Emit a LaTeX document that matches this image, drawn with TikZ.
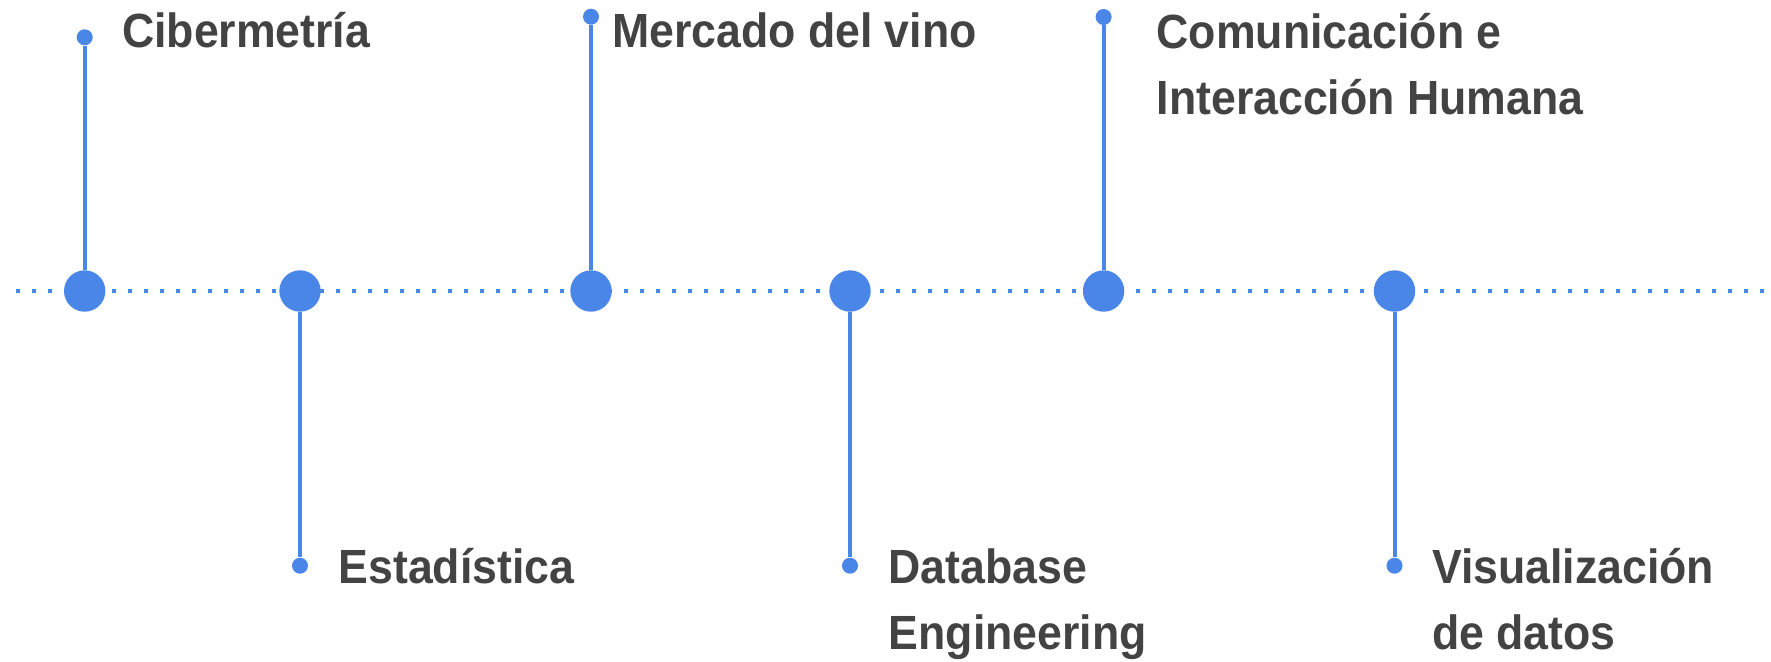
\documentclass[tikz,border=0pt]{standalone}
\usepackage{fontspec}
\setmainfont{Liberation Sans}[FakeStretch=0.93]
\usetikzlibrary{positioning}
\definecolor{tlblue}{HTML}{4A86E8}
\definecolor{tlgray}{HTML}{434343}

\begin{document}
\begin{tikzpicture}[x=0.5pt,y=0.5pt,
  bigdot/.style={circle,fill=tlblue,inner sep=0,minimum size=20.7pt},
  smalldot/.style={circle,fill=tlblue,inner sep=0,minimum size=8pt},
  stem/.style={tlblue,line width=2pt},
  topic/.style={anchor=base west,inner sep=0,align=left,text=tlgray,
    font=\bfseries\fontsize{24}{33}\selectfont}]
\useasboundingbox (0,0) rectangle (1771,661);

% Timeline
\coordinate (tl-start) at (16,370);
\coordinate (tl-end) at (1771,370);
\draw[tlblue,line width=1.75pt,dash pattern=on 1.75pt off 6.25pt] (tl-start) -- (tl-end);

% Milestones
\node[bigdot] (ciber) at (84.7,370) {};
\node[bigdot] (estad) at (300,370) {};
\node[bigdot] (vino) at (591,370) {};
\node[bigdot] (dbeng) at (850,370) {};
\node[bigdot] (comun) at (1103.6,370) {};
\node[bigdot] (visual) at (1394.5,370) {};

% Stem ends
\node[smalldot] (ciber-end) at (84.7,623.7) {};
\node[smalldot] (estad-end) at (300,95.3) {};
\node[smalldot] (vino-end) at (591,644.3) {};
\node[smalldot] (dbeng-end) at (850,95.3) {};
\node[smalldot] (comun-end) at (1103.6,644) {};
\node[smalldot] (visual-end) at (1394.5,95.3) {};

% Stems
\draw[stem] (ciber) -- (ciber-end);
\draw[stem] (estad) -- (estad-end);
\draw[stem] (vino) -- (vino-end);
\draw[stem] (dbeng) -- (dbeng-end);
\draw[stem] (comun) -- (comun-end);
\draw[stem] (visual) -- (visual-end);

% Labels (base = last line)
\node[topic] (ciber-txt) at (121.7,613.3) {Cibermetría};
\node[topic] (vino-txt) at (611.7,613.3) {Mercado del vino};
\node[topic] (comun-txt) at (1156.3,546.7) {Comunicación e\\Interacción Humana};
\node[topic] (estad-txt) at (338.3,77.7) {Estadística};
\node[topic] (dbeng-txt) at (888.3,12) {Database\\Engineering};
\node[topic] (visual-txt) at (1431.7,12) {Visualización\\de datos};
\end{tikzpicture}
\end{document}
